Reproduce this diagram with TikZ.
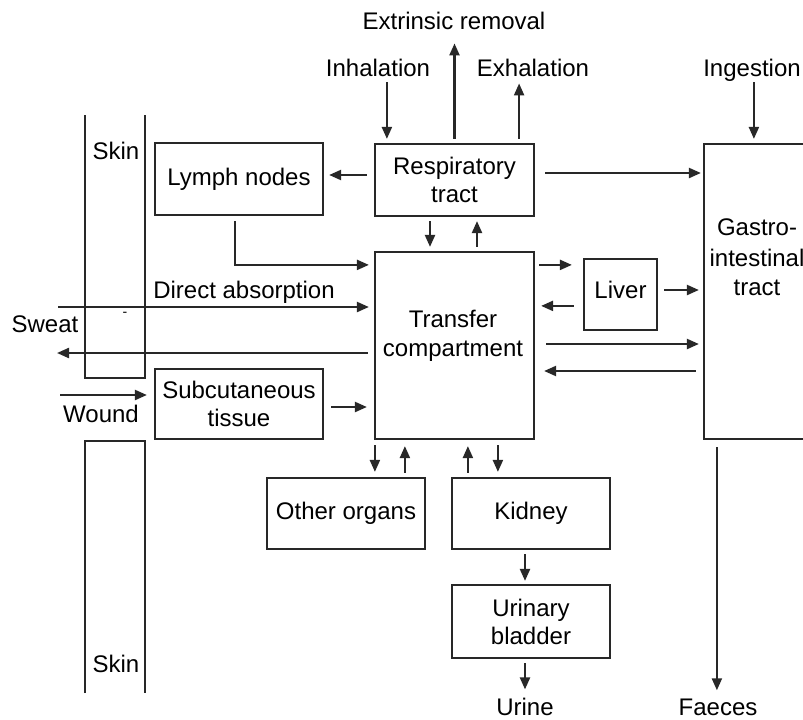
\documentclass[tikz,border=0pt]{standalone}
\usepackage{fontspec}
\setmainfont{Liberation Sans}
\usetikzlibrary{arrows.meta,calc}
\definecolor{ln}{RGB}{40,40,40}
\begin{document}
\begin{tikzpicture}[x=1pt,y=-1pt,
  box/.style={draw=ln, line width=2.2pt, rectangle, inner sep=0pt, align=center, font=\fontsize{24}{28}\selectfont},
  txt/.style={inner sep=0pt, anchor=base, font=\fontsize{24}{28}\selectfont},
  arr/.style={draw=ln, line width=2.2pt, -{Triangle[length=12pt,width=10pt]}},
  skinline/.style={draw=ln, line width=2.2pt}]
\clip (0,0) rectangle (803,720);
\fill[white] (0,0) rectangle (803,720);
% boxes
\node[box, minimum width=168pt, minimum height=72pt] (lymph) at (239,179) {Lymph nodes};
\node[box, minimum width=159pt, minimum height=72pt] (resp) at (454.5,180) {Respiratory\\tract};
\node[box, minimum width=159pt, minimum height=187pt] (tc) at (454.5,345.5) {};
\node[box, minimum width=73pt, minimum height=71pt, text depth=10pt] (liver) at (620.5,294.5) {Liver};
\node[box, minimum width=111pt, minimum height=295pt] (gi) at (759.5,291.5) {};
\node[box, minimum width=168pt, minimum height=70pt] (subcut) at (239,404) {Subcutaneous\\tissue};
\node[box, minimum width=158pt, minimum height=71pt] (other) at (346,513.5) {Other organs};
\node[box, minimum width=158pt, minimum height=71pt] (kidney) at (531,513.5) {Kidney};
\node[box, minimum width=158pt, minimum height=73pt] (bladder) at (531,621.5) {Urinary\\bladder};
% texts inside big boxes
\node[txt] (tc1) at (453,327) {Transfer};
\node[txt] (tc2) at (453,356) {compartment};
\node[txt] (gi1) at (757,235) {Gastro-};
\node[txt] (gi2) at (757,266) {intestinal};
\node[txt] (gi3) at (757,295) {tract};
% free texts
\node[txt] (extr) at (454,29) {Extrinsic removal};
\node[txt] (inhal) at (378,76) {Inhalation};
\node[txt] (exhal) at (533,76) {Exhalation};
\node[txt] (ingest) at (752,76) {Ingestion};
\node[txt] (direct) at (244,298) {Direct absorption};
\node[txt] (sweat) at (45,332) {Sweat};
\node[txt] (wound) at (101,422) {Wound};
\node[txt] (skin1) at (116,159) {Skin};
\node[txt] (skin2) at (116,672) {Skin};
\node[txt] (urine) at (525,715) {Urine};
\node[txt] (faeces) at (718,715) {Faeces};
\node[txt, font=\fontsize{14}{16}\selectfont] (dash) at (125,316) {-};
% skin
\draw[skinline] (85,115) -- (85,378) -- (145,378) -- (145,115);
\draw[skinline] (85,693) -- (85,441) -- (145,441) -- (145,693);
% free-end coordinates
\coordinate (dstart) at (58,307);
\coordinate (swend) at (57,353);
\coordinate (wstart) at (60,395);
% arrows at the top
\draw[arr, shorten <=6pt, shorten >=4pt] ([xshift=13pt]resp.north west |- inhal.south) -- ([xshift=13pt]resp.north west);
\draw[arr, shorten <=4pt, shorten >=14pt] (resp.north) -- (resp.north |- extr.south);
\draw[arr, shorten <=4pt, shorten >=7pt] ([xshift=-16pt]resp.north east) -- ([xshift=-16pt]resp.north east |- exhal.south);
\draw[arr, shorten <=1pt, shorten >=4pt] ([xshift=51pt]gi.north west |- ingest.south) -- ([xshift=51pt]gi.north west);
% respiratory tract
\draw[arr, shorten <=7pt, shorten >=5pt] ([yshift=5pt]resp.west) -- ([yshift=5pt]resp.west -| lymph.east);
\draw[arr, shorten <=10pt, shorten >=2pt] ([yshift=7pt]resp.east) -- ([yshift=7pt]resp.east -| gi.west);
\draw[arr, shorten <=4pt, shorten >=4pt] ([xshift=-24.5pt]resp.south) -- ([xshift=-24.5pt]tc.north);
\draw[arr, shorten <=4pt, shorten >=4pt] ([xshift=22.5pt]tc.north) -- ([xshift=22.5pt]resp.south);
% left side
\draw[arr, shorten <=5pt, shorten >=5pt] ([xshift=-4pt]lymph.south) |- ([yshift=-14pt]tc.north west);
\draw[arr, shorten >=5pt] (dstart) -- (dstart -| tc.west);
\draw[arr, shorten <=6pt] (swend -| tc.west) -- (swend);
\draw[arr, shorten >=7pt] (wstart) -- (wstart -| subcut.west);
\draw[arr, shorten <=7pt, shorten >=7pt] ([yshift=-3pt]subcut.east) -- ([yshift=-3pt]subcut.east -| tc.west);
% right side
\draw[arr, shorten <=4pt, shorten >=11pt] ([yshift=-14pt]tc.north east) -- ([yshift=-14pt]tc.north east -| liver.west);
\draw[arr, shorten <=9pt, shorten >=6pt] ([yshift=-55pt]tc.north east -| liver.west) -- ([yshift=-55pt]tc.north east);
\draw[arr, shorten <=6pt, shorten >=4pt] ([yshift=4.5pt]liver.east) -- ([yshift=4.5pt]liver.east -| gi.west);
\draw[arr, shorten <=11pt, shorten >=4pt] ([yshift=1.5pt]tc.east) -- ([yshift=1.5pt]tc.east -| gi.west);
\draw[arr, shorten <=7pt, shorten >=9pt] ([yshift=-25.5pt]tc.east -| gi.west) -- ([yshift=-25.5pt]tc.east);
% bottom
\draw[arr, shorten <=5pt, shorten >=5pt] ([xshift=1pt]tc.south west) -- ([xshift=1pt]tc.south west |- other.north);
\draw[arr, shorten <=4pt, shorten >=6pt] ([xshift=31pt]tc.south west |- other.north) -- ([xshift=31pt]tc.south west);
\draw[arr, shorten <=4pt, shorten >=6pt] ([xshift=94pt]tc.south west |- kidney.north) -- ([xshift=94pt]tc.south west);
\draw[arr, shorten <=5pt, shorten >=5pt] ([xshift=124pt]tc.south west) -- ([xshift=124pt]tc.south west |- kidney.north);
\draw[arr, shorten <=4pt, shorten >=3pt] ([xshift=-6pt]kidney.south) -- ([xshift=-6pt]bladder.north);
\draw[arr, shorten <=4pt, shorten >=8pt] ([xshift=-6pt]bladder.south) -- ([xshift=-6pt]bladder.south |- urine.north);
\draw[arr, shorten <=7pt, shorten >=8pt] ([xshift=14pt]gi.south west) -- ([xshift=14pt]gi.south west |- faeces.north);
\end{tikzpicture}
\end{document}
